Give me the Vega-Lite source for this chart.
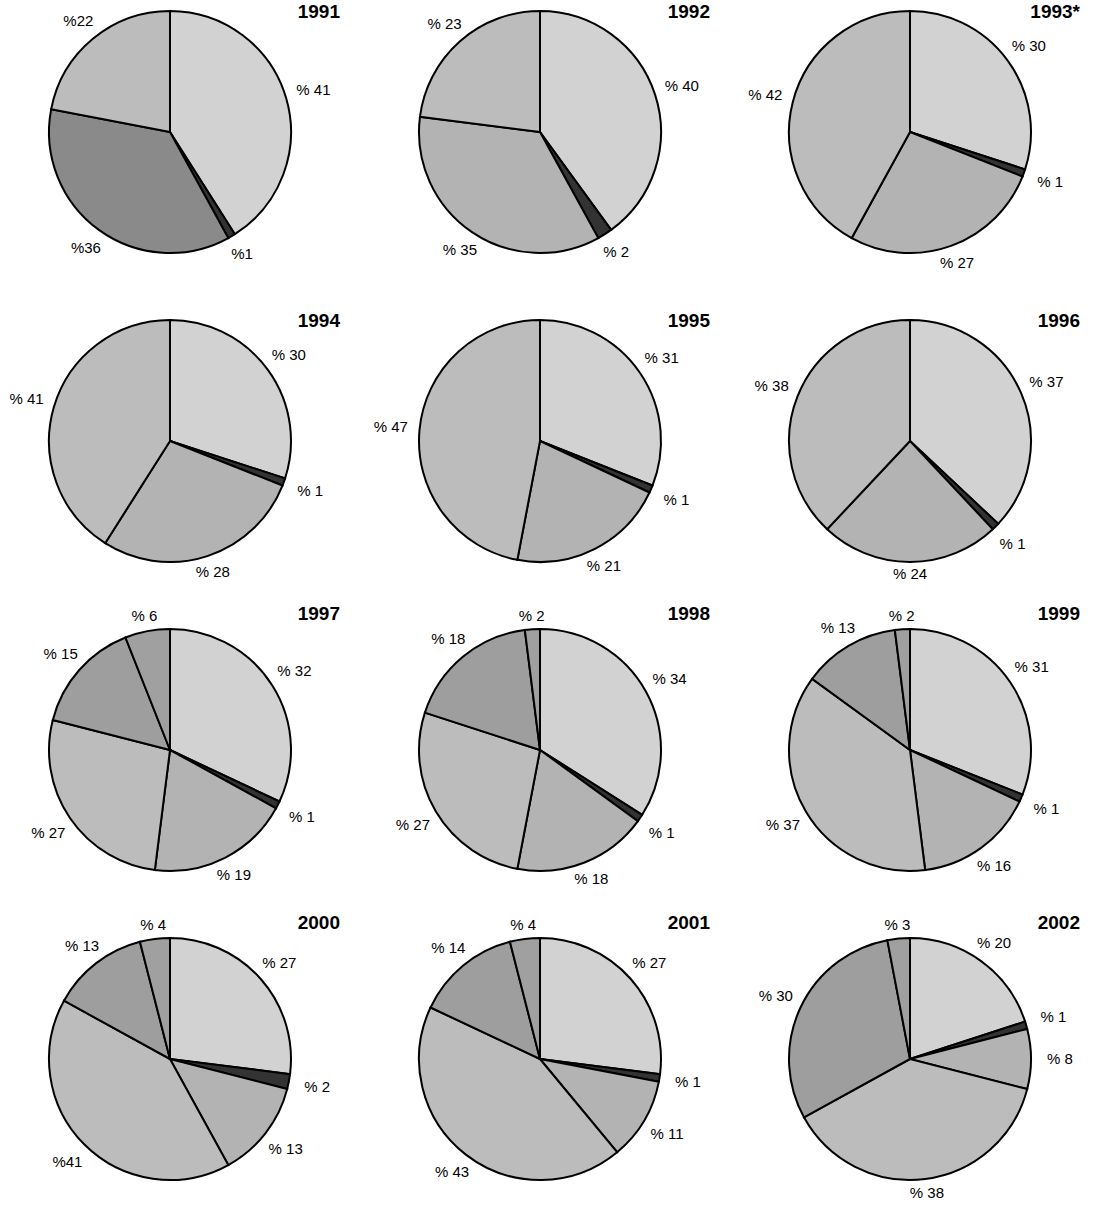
{
  "$schema": "https://vega.github.io/schema/vega-lite/v6.json",
  "padding": {"left": 0, "top": 3, "right": 0, "bottom": 0},
  "bounds": "flush",
  "background": "white",
  "data": {"values": [
    {"year": "1991", "series": "A", "o": 1, "pct": 41, "label": "% 41"},
    {"year": "1991", "series": "B", "o": 2, "pct": 1, "label": "%1"},
    {"year": "1991", "series": "C (1991)", "o": 3, "pct": 36, "label": "%36"},
    {"year": "1991", "series": "D", "o": 4, "pct": 22, "label": "%22"},
    {"year": "1992", "series": "A", "o": 1, "pct": 40, "label": "% 40"},
    {"year": "1992", "series": "B", "o": 2, "pct": 2, "label": "% 2"},
    {"year": "1992", "series": "C", "o": 3, "pct": 35, "label": "% 35"},
    {"year": "1992", "series": "D", "o": 4, "pct": 23, "label": "% 23"},
    {"year": "1993*", "series": "A", "o": 1, "pct": 30, "label": "% 30"},
    {"year": "1993*", "series": "B", "o": 2, "pct": 1, "label": "% 1"},
    {"year": "1993*", "series": "C", "o": 3, "pct": 27, "label": "% 27"},
    {"year": "1993*", "series": "D", "o": 4, "pct": 42, "label": "% 42"},
    {"year": "1994", "series": "A", "o": 1, "pct": 30, "label": "% 30"},
    {"year": "1994", "series": "B", "o": 2, "pct": 1, "label": "% 1"},
    {"year": "1994", "series": "C", "o": 3, "pct": 28, "label": "% 28"},
    {"year": "1994", "series": "D", "o": 4, "pct": 41, "label": "% 41"},
    {"year": "1995", "series": "A", "o": 1, "pct": 31, "label": "% 31"},
    {"year": "1995", "series": "B", "o": 2, "pct": 1, "label": "% 1"},
    {"year": "1995", "series": "C", "o": 3, "pct": 21, "label": "% 21"},
    {"year": "1995", "series": "D", "o": 4, "pct": 47, "label": "% 47"},
    {"year": "1996", "series": "A", "o": 1, "pct": 37, "label": "% 37"},
    {"year": "1996", "series": "B", "o": 2, "pct": 1, "label": "% 1"},
    {"year": "1996", "series": "C", "o": 3, "pct": 24, "label": "% 24"},
    {"year": "1996", "series": "D", "o": 4, "pct": 38, "label": "% 38"},
    {"year": "1997", "series": "A", "o": 1, "pct": 32, "label": "% 32"},
    {"year": "1997", "series": "B", "o": 2, "pct": 1, "label": "% 1"},
    {"year": "1997", "series": "C", "o": 3, "pct": 19, "label": "% 19"},
    {"year": "1997", "series": "D", "o": 4, "pct": 27, "label": "% 27"},
    {"year": "1997", "series": "E", "o": 5, "pct": 15, "label": "% 15"},
    {"year": "1997", "series": "F", "o": 6, "pct": 6, "label": "% 6"},
    {"year": "1998", "series": "A", "o": 1, "pct": 34, "label": "% 34"},
    {"year": "1998", "series": "B", "o": 2, "pct": 1, "label": "% 1"},
    {"year": "1998", "series": "C", "o": 3, "pct": 18, "label": "% 18"},
    {"year": "1998", "series": "D", "o": 4, "pct": 27, "label": "% 27"},
    {"year": "1998", "series": "E", "o": 5, "pct": 18, "label": "% 18"},
    {"year": "1998", "series": "F", "o": 6, "pct": 2, "label": "% 2"},
    {"year": "1999", "series": "A", "o": 1, "pct": 31, "label": "% 31"},
    {"year": "1999", "series": "B", "o": 2, "pct": 1, "label": "% 1"},
    {"year": "1999", "series": "C", "o": 3, "pct": 16, "label": "% 16"},
    {"year": "1999", "series": "D", "o": 4, "pct": 37, "label": "% 37"},
    {"year": "1999", "series": "E", "o": 5, "pct": 13, "label": "% 13"},
    {"year": "1999", "series": "F", "o": 6, "pct": 2, "label": "% 2"},
    {"year": "2000", "series": "A", "o": 1, "pct": 27, "label": "% 27"},
    {"year": "2000", "series": "B", "o": 2, "pct": 2, "label": "% 2"},
    {"year": "2000", "series": "C", "o": 3, "pct": 13, "label": "% 13"},
    {"year": "2000", "series": "D", "o": 4, "pct": 41, "label": "%41"},
    {"year": "2000", "series": "E", "o": 5, "pct": 13, "label": "% 13"},
    {"year": "2000", "series": "F", "o": 6, "pct": 4, "label": "% 4"},
    {"year": "2001", "series": "A", "o": 1, "pct": 27, "label": "% 27"},
    {"year": "2001", "series": "B", "o": 2, "pct": 1, "label": "% 1"},
    {"year": "2001", "series": "C", "o": 3, "pct": 11, "label": "% 11"},
    {"year": "2001", "series": "D", "o": 4, "pct": 43, "label": "% 43"},
    {"year": "2001", "series": "E", "o": 5, "pct": 14, "label": "% 14"},
    {"year": "2001", "series": "F", "o": 6, "pct": 4, "label": "% 4"},
    {"year": "2002", "series": "A", "o": 1, "pct": 20, "label": "% 20"},
    {"year": "2002", "series": "B", "o": 2, "pct": 1, "label": "% 1"},
    {"year": "2002", "series": "C", "o": 3, "pct": 8, "label": "% 8"},
    {"year": "2002", "series": "D", "o": 4, "pct": 38, "label": "% 38"},
    {"year": "2002", "series": "E", "o": 5, "pct": 30, "label": "% 30"},
    {"year": "2002", "series": "F", "o": 6, "pct": 3, "label": "% 3"}
  ]},
  "facet": {
    "field": "year",
    "type": "nominal",
    "header": {
      "title": null,
      "labelFont": "Liberation Sans",
      "labelFontSize": 19,
      "labelFontWeight": "bold",
      "labelColor": "black",
      "labelAnchor": "end",
      "labelAlign": "right",
      "labelPadding": -15
    }
  },
  "columns": 3,
  "spacing": {"row": 59, "column": 30},
  "spec": {
    "width": 340,
    "height": 250,
    "encoding": {
      "theta": {"field": "pct", "type": "quantitative", "stack": true},
      "order": {"field": "o", "type": "quantitative"}
    },
    "layer": [
      {
        "mark": {"type": "arc", "outerRadius": 121, "stroke": "black", "strokeWidth": 2},
        "encoding": {
          "fill": {
            "field": "series",
            "type": "nominal",
            "legend": null,
            "scale": {
              "domain": ["A", "B", "C", "C (1991)", "D", "E", "F"],
              "range": ["#d2d2d2", "#333333", "#b3b3b3", "#8a8a8a", "#bcbcbc", "#9e9e9e", "#a0a0a0"]
            }
          }
        }
      },
      {
        "mark": {
          "type": "text",
          "radius": {"expr": "133 + 17 * abs(sin(PI * (datum.pct_start + datum.pct_end) / 100))"},
          "fontSize": 15,
          "font": "Liberation Sans",
          "color": "black"
        },
        "encoding": {"text": {"field": "label", "type": "nominal"}}
      }
    ]
  },
  "config": {"view": {"stroke": null}}
}
